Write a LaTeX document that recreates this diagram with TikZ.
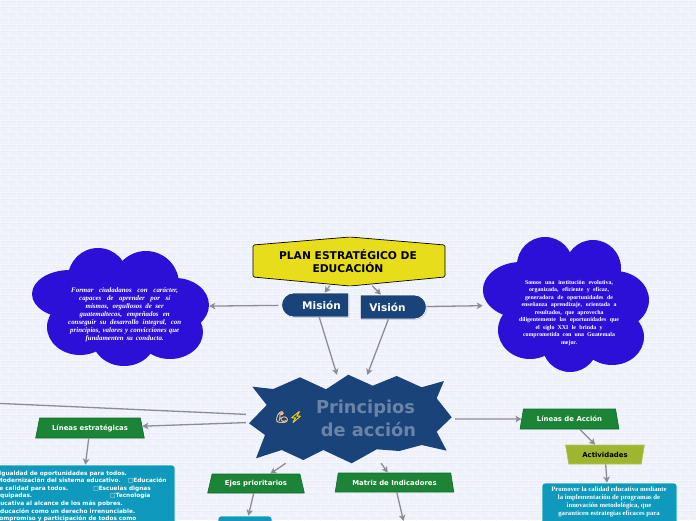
\documentclass[tikz,border=0pt]{standalone}
\usepackage{fontspec}
\setmainfont{Liberation Serif}
\setsansfont{DejaVu Sans}
\newfontfamily\emojifont{Noto Emoji}[FakeBold=3]
\usetikzlibrary{arrows.meta,shapes.geometric,shapes.misc,shadows}
\definecolor{fondo}{HTML}{F0F2FB}
\definecolor{ladrillo}{HTML}{F6F7FD}
\definecolor{junta}{HTML}{EAECF7}
\definecolor{amarillo}{HTML}{E8DD1A}
\definecolor{marino}{HTML}{1A4379}
\definecolor{violeta}{HTML}{2D10D8}
\definecolor{verde}{HTML}{1B8436}
\definecolor{verdeoscuro}{HTML}{0F6B2A}
\definecolor{oliva}{HTML}{9DB52F}
\definecolor{turquesa}{HTML}{0F9ABD}
\definecolor{titulo}{HTML}{6A84A9}
\definecolor{conector}{HTML}{8C8C94}
\tikzset{
  conn/.style={draw=conector,line width=1.3pt,-{Stealth[length=6pt,width=6.5pt,inset=1.5pt]}},
  nube/.style={fill=violeta,draw=none},
  lema/.style={fill=marino,draw=white,line width=.7pt,rounded rectangle,rounded rectangle arc length=180,
    minimum height=24pt,inner sep=0pt,text=white,font=\sffamily\bfseries\fontsize{10.5}{12}\selectfont,
    drop shadow={shadow xshift=.7pt,shadow yshift=-.9pt,opacity=.35}},
  eje/.style={trapezium,trapezium stretches=true,draw=verdeoscuro,fill=verde,line width=.6pt,inner sep=0pt,
    text=white,font=\sffamily\bfseries\fontsize{6.9}{8}\selectfont},
  caja/.style={fill=turquesa,draw=white,line width=.6pt,rounded corners=3pt,inner sep=0pt},
  cajatexto/.style={text=white,inner sep=0pt,align=center,font=\rmfamily\bfseries\fontsize{6.7}{8}\selectfont},
  marco/.style={inner sep=0pt,draw=none}
}
\begin{document}
\begin{tikzpicture}[x=1pt,y=-1pt]
  \useasboundingbox (0,0) rectangle (696,520);
  \clip (0,0) rectangle (696,520);
  \fill[fondo] (0,0) rectangle (696,520);
  \foreach \r in {0,...,87}{
    \draw[ladrillo,line width=.7pt] (0,\r*6) -- (696,\r*6);
    \draw[junta,line width=.3pt] (0,\r*6+.7) -- (696,\r*6+.7);
    \pgfmathsetmacro{\desfase}{mod(\r,2)*8}
    \foreach \c in {0,...,44}{
      \draw[ladrillo,line width=.7pt] (\c*16+\desfase,\r*6) -- (\c*16+\desfase,\r*6+6);
    }
  }

  \fill[nube] (120,307) ellipse (65 and 45);
  \fill[nube] (70,294) ellipse (38 and 24);
  \fill[nube] (98,278) circle (30);
  \fill[nube] (146,284) circle (33);
  \fill[nube] (175,305) ellipse (34 and 27);
  \fill[nube] (170,332) ellipse (33 and 27);
  \fill[nube] (124,338) ellipse (32 and 28);
  \fill[nube] (80,327) ellipse (33 and 28);

  \fill[nube] (566,304) ellipse (60 and 50);
  \fill[nube] (521,290) ellipse (38 and 28);
  \fill[nube] (545,265) circle (28);
  \fill[nube] (593,268) circle (28);
  \fill[nube] (615,300) ellipse (34 and 29);
  \fill[nube] (612,337) ellipse (32 and 28);
  \fill[nube] (570,344) circle (28);
  \fill[nube] (530,330) ellipse (32 and 29);

  \filldraw[fill=amarillo,draw=black,line width=.7pt,rounded corners=1.5pt]
    (253,245) -- (350,237) -- (445,245) -- (445,277) -- (350,286) -- (253,277) -- cycle;

  \fill[marino] (252.3,386.7) -- (273.3,389) -- (300,377.3) -- (326,389.3) -- (348.3,374.7) -- (372.7,385.7)
    -- (396.7,376) -- (421.7,387.3) -- (444,381) -- (436.7,398.3) -- (451.7,417.3) -- (436.7,431.7)
    -- (446.7,450.7) -- (421.7,445) -- (399.3,451) -- (376.7,449.3) -- (351.7,463.3) -- (323.3,450)
    -- (303.3,460) -- (281.7,450) -- (256,458.3) -- (265,435) -- (249,423.3) -- (266.7,405) -- cycle;

  \node[marco,minimum width=192pt,minimum height=49pt,align=center,font=\sffamily\bfseries\fontsize{10.7}{13}\selectfont] (plan) at (348,261) {PLAN ESTRATÉGICO DE\\EDUCACIÓN};
  \node[lema,rounded rectangle east arc=none,minimum width=67pt] (mision) at (315.5,305) {\hspace*{12pt}Misión};
  \node[lema,rounded rectangle west arc=none,minimum width=66pt] (vision) at (393,307) {Visión\hspace*{11pt}};
  \node[marco,minimum width=177pt,minimum height=118pt] (nubemision) at (120.5,307) {};
  \node[marco,minimum width=166pt,minimum height=135pt] (nubevision) at (566,304.5) {};
  \node[marco,minimum width=203pt,minimum height=88pt] (principios) at (350.5,419) {};
  \node[inner sep=0pt,align=center,text=titulo,font=\sffamily\bfseries\fontsize{17.8}{23}\selectfont] (titulo) at (365.5,418) {Principios\\\hspace*{6pt}de acción};
  \node[inner sep=0pt,font=\emojifont\fontsize{11}{11}\selectfont,text={orange!40!white!85!brown}] (brazo) at (282,417) {💪};
  \node[inner sep=0pt,font=\emojifont\fontsize{11}{11}\selectfont,text={yellow!70!orange}] (rayo) at (296,417) {⚡};

  \node[inner sep=0pt,align=center,text=white,font=\rmfamily\bfseries\itshape\fontsize{6.9}{8}\selectfont] (textomision) at (124.7,315) {
    \makebox[107pt][s]{Formar ciudadanos con carácter,}\\
    \makebox[91pt][s]{capaces de aprender por sí}\\
    \makebox[78pt][s]{mismos, orgullosos de ser}\\
    \makebox[90pt][s]{guatemaltecos, empeñados en}\\
    \makebox[113pt][s]{conseguir su desarrollo integral, con}\\
    \makebox[109pt][s]{principios, valores y convicciones que}\\
    \makebox[78pt][s]{fundamenten su conducta.}};
  \node[inner sep=0pt,align=center,text=white,font=\rmfamily\bfseries\fontsize{5.9}{7.5}\selectfont] (textovision) at (569,313) {
    \makebox[88pt][s]{Somos una institución evolutiva,}\\
    \makebox[80pt][s]{organizada, eficiente y eficaz,}\\
    \makebox[88pt][s]{generadora de oportunidades de}\\
    \makebox[95pt][s]{enseñanza aprendizaje, orientada a}\\
    \makebox[69pt][s]{resultados, que aprovecha}\\
    \makebox[100pt][s]{diligentemente las oportunidades que}\\
    \makebox[67pt][s]{el siglo XXI le brinda y}\\
    \makebox[92pt][s]{comprometida con una Guatemala}\\
    mejor.};

  \node[eje,trapezium angle=67,minimum width=109pt,minimum height=20pt] (lineas) at (90,428) {Líneas estratégicas};
  \node[eje,trapezium angle=65,minimum width=97pt,minimum height=19pt] (ejes) at (256,483.5) {Ejes prioritarios};
  \node[eje,trapezium angle=67,minimum width=119pt,minimum height=19pt] (matriz) at (394.5,482.5) {Matriz de Indicadores};
  \node[eje,trapezium angle=67,minimum width=99pt,minimum height=20pt] (accion) at (569.5,419) {Líneas de Acción};
  \node[trapezium,trapezium stretches=true,shape border rotate=180,trapezium angle=70,fill=oliva,draw=oliva!80!white,line width=.6pt,inner sep=0pt,
    minimum width=79pt,minimum height=19pt,font=\sffamily\bfseries\fontsize{6.9}{8}\selectfont] (actividades) at (605,454.5) {Actividades};

  \node[caja,minimum width=198pt,minimum height=150pt] (cajalineas) at (76,540) {};
  \node[caja,minimum width=54pt,minimum height=28pt] (cajaejes) at (245,530) {};
  \node[caja,minimum width=135pt,minimum height=70pt] (cajaactividades) at (609.5,518) {};

  \node[anchor=north west,inner sep=0pt,align=left,text=white,font=\sffamily\bfseries\fontsize{5.8}{7.6}\selectfont] (textolineas) at (-8,470.5) {%
    \hspace*{7pt}Igualdad de oportunidades para todos.\\
    \hspace*{5pt}Modernización del sistema educativo.\hspace{7pt}□Educación\\
    \hspace*{3pt}de calidad para todos.\hspace{25pt}□Escuelas dignas\\
    \hspace*{4pt}equipadas.\hspace{78pt}□Tecnología\\
    educativa al alcance de los más pobres.\\
    \hspace*{4pt}Educación como un derecho irrenunciable.\\
    \hspace*{3pt}Compromiso y participación de todos como};
  \node[cajatexto,anchor=north] (textoactividades) at (609,487) {
    Promover la calidad educativa mediante\\
    la implementación de programas de\\
    innovación metodológica, que\\
    garanticen estrategias eficaces para};

  \coordinate (fuera) at (-100,399);
  \coordinate (matrizfin) at (403.5,521);

  \draw[conn] (plan) -- (mision);
  \draw[conn] (plan) -- (vision);
  \draw[conn,shorten <=3pt] (mision) -- (nubemision);
  \draw[conn] (vision) -- (nubevision);
  \draw[conn] (mision) -- (principios);
  \draw[conn] (vision) -- (principios);
  \draw[conn,shorten <=3pt] (principios) -- (lineas);
  \draw[conn,shorten <=3pt] (principios) -- (fuera);
  \draw[conn] (principios) -- (ejes);
  \draw[conn] (principios) -- (matriz);
  \draw[conn,shorten <=3pt] (principios) -- (accion);
  \draw[conn] (lineas) -- (cajalineas);
  \draw[conn] (ejes) -- (cajaejes);
  \draw[conn] (matriz) -- (matrizfin);
  \draw[conn] (accion) -- (actividades);
  \draw[conn] (actividades) -- (cajaactividades);
\end{tikzpicture}
\end{document}
